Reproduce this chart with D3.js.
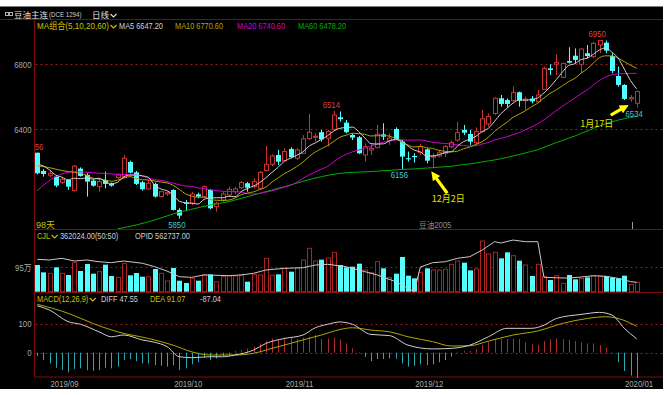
<!DOCTYPE html>
<html>
<head>
<meta charset="utf-8">
<script src="https://cdn.jsdelivr.net/npm/d3@7"></script>
<style>
  body { margin: 0; background: #fff; }
  svg text { font-family: "Liberation Sans", Arial, "Noto Sans CJK SC", sans-serif; }
  svg text.cjk { font-family: "Noto Sans CJK SC", sans-serif; }
</style>
</head>
<body>
<div id="chart"></div>
<script>
// Daily bars, 2019-08-26 .. 2020-01-17 (98 trading days)
const opens = [6256,6144,6117,6109,6072,6088,6023,6158,6119,6084,6047,6088,6064,6103,6105,6199,6135,6074,6033,6064,
  5986,6002,6027,5904,5949,5945,6000,5986,6027,5924,5965,5996,6016,6041,6068,6047,6037,6146,6185,6242,
  6207,6279,6222,6252,6343,6353,6382,6345,6400,6474,6441,6365,6351,6242,6273,6287,6369,6330,6402,6324,
  6222,6236,6258,6277,6228,6236,6252,6293,6334,6396,6371,6318,6386,6433,6498,6591,6580,6576,6628,6576,
  6589,6570,6646,6775,6800,6720,6820,6853,6800,6868,6847,6919,6933,6851,6728,6673,6587,6560];
const highs = [6256,6154,6150,6119,6105,6092,6181,6166,6129,6092,6098,6140,6072,6129,6242,6207,6144,6082,6088,6072,
  6023,6016,6031,5914,5965,6016,6010,6055,6033,5955,6016,6047,6047,6082,6076,6098,6144,6297,6246,6273,
  6283,6289,6283,6365,6494,6375,6396,6396,6514,6510,6457,6375,6359,6314,6314,6427,6437,6375,6412,6334,
  6263,6252,6310,6283,6252,6273,6304,6330,6447,6427,6396,6412,6519,6498,6597,6611,6590,6663,6632,6601,
  6605,6642,6786,6800,6861,6810,6905,6898,6898,6919,6939,6950,6946,6868,6786,6677,6611,6638];
const lows = [6123,6109,6105,6043,6064,6027,6016,6109,5986,6047,6016,6037,6047,6096,6098,6129,6057,6023,6027,5980,
  5980,5990,5900,5850,5904,5934,5975,5980,5908,5893,5955,5986,6002,6031,6016,6037,6027,6140,6174,6181,
  6201,6222,6211,6248,6334,6324,6324,6293,6392,6447,6375,6334,6248,6201,6242,6283,6334,6304,6334,6156,
  6201,6195,6242,6191,6160,6228,6232,6283,6324,6365,6304,6310,6379,6416,6488,6539,6535,6570,6539,6519,
  6560,6560,6642,6734,6734,6714,6806,6806,6745,6837,6837,6868,6868,6745,6663,6580,6570,6534];
const closes = [6129,6125,6129,6053,6092,6047,6174,6113,6078,6053,6078,6064,6053,6119,6222,6133,6064,6031,6068,5986,
  6016,6010,5904,5869,5941,6002,5986,6047,5914,5945,6002,6031,6033,6072,6041,6078,6135,6185,6236,6201,
  6263,6228,6273,6341,6382,6357,6338,6386,6488,6462,6382,6349,6252,6293,6283,6369,6355,6345,6338,6232,
  6215,6228,6293,6207,6236,6256,6293,6318,6379,6379,6324,6386,6464,6478,6591,6556,6556,6626,6576,6585,
  6572,6611,6775,6765,6810,6806,6810,6827,6894,6851,6929,6946,6884,6759,6673,6587,6595,6632];
const volumes = [1027000,744000,706000,937000,706000,642000,1116000,796000,1065000,693000,770000,1040000,603000,552000,1090000,629000,719000,577000,577000,873000,
  706000,411000,911000,423000,334000,513000,423000,642000,667000,385000,577000,603000,603000,642000,385000,667000,642000,1283000,629000,667000,
  898000,770000,924000,1219000,1668000,1180000,1232000,1296000,1514000,1027000,937000,962000,1078000,834000,731000,1155000,898000,552000,693000,1335000,
  616000,513000,744000,898000,834000,834000,860000,1052000,1180000,1116000,821000,873000,1950000,1450000,1514000,1283000,1514000,1386000,1193000,1027000,
  603000,1052000,577000,449000,616000,321000,642000,475000,513000,552000,603000,577000,603000,539000,513000,616000,282000,362024];
const openInterest = [[0,716000],[2,712000],[4,723000],[6,705000],[8,712000],[10,700000],[12,694000],[14,705000],[17,690000],[19,667000],
  [21,638000],[23,600000],[25,596000],[27,612000],[31,607000],[33,612000],[35,623000],[37,645000],[40,656000],[43,660000],
  [45,678000],[47,683000],[50,667000],[53,634000],[55,612000],[58,567000],[60,523000],[61,500000],[62,665000],[64,694000],
  [66,700000],[68,723000],[70,734000],[72,778000],[74,834000],[75,825000],[77,845000],[79,834000],[81,834000],[82,596000],
  [84,593000],[86,591000],[88,598000],[90,607000],[92,603000],[94,589000],[96,567000],[97,562737]];

// moving-average values before a full window is available [day, price]
const ma5Head = [[0,6187],[1,6174],[2,6150],[3,6118]];
const ma10Head = [[0,6176],[2,6164],[4,6146],[6,6135],[8,6117]];
const ma20Head = [[0,6023],[3,6109],[6,6140],[9,6133],[13,6123],[16,6119]];
const ma60Head = [[13,5787],[16,5811],[19,5842],[22,5879],[25,5908],[28,5934],[31,5955],[35,5996],[40,6047],[46,6109],[49,6129],[54,6140],[58,6150]];

// MACD(12,26,9)
const diffPoints = [[0,162],[2,147],[5,107],[7,98],[10,72],[12,55],[14,61],[17,44],[19,36],[21,21],[23,-14],[25,-17],[28,-14],[30,-14],
  [32,-8],[35,9],[37,32],[40,49],[43,61],[45,86],[47,98],[49,106],[51,98],[54,63],[57,59],[60,26],[64,13],[67,15],[70,26],
  [73,55],[76,84],[80,84],[82,95],[84,118],[88,132],[91,139],[93,130],[95,84],[97,47.55]];
const deaPoints = [[0,167],[5,136],[9,101],[13,72],[18,49],[22,26],[25,3],[28,-8],[32,-8],[35,-2],[38,15],[43,44],[46,61],[49,80],
  [51,86],[54,78],[57,72],[60,55],[64,38],[67,23],[70,24],[73,40],[77,61],[81,75],[85,101],[89,118],[92,124],[94,118],[97,91.07]];
const macdBars = [-11,-25,-37,-52,-60,-68,-56,-54,-60,-63,-60,-52,-54,-48,-25,-22,-29,-37,-37,-43,
  -45,-48,-43,-60,-54,-40,-33,-17,-25,-20,-11,-8,6,9,15,21,32,40,49,47,
  52,52,47,52,55,61,47,49,52,46,32,15,-2,-14,-29,-22,-22,-20,-20,-37,
  -48,-45,-40,-43,-40,-33,-25,-14,3,6,6,13,26,38,47,49,47,49,47,36,
  29,26,40,47,49,47,44,40,36,32,32,26,17,-2,-33,-63,-79,-87.04];

const monthIdx = [5, 25, 43, 64, 86];
const monthLabels = ["2019/09", "2019/10", "2019/11", "2019/12", "2020/01"];
const priceTicks = [6400, 6800];
const volTicks = [950000];
const macdTicks = [0, 100];

const maNames = ["MA5", "MA10", "MA20", "MA60"];
const maLast = [6647.2, 6770.6, 6740.6, 6478.2];
const highMarks = [0, 48, 91];
const lowMarks = [23, 59, 97];

document.addEventListener("DOMContentLoaded", function () {
  const width = 667,
    height = 395;
  const left = 34.5,
    right = 663;
  const frame = "#7a0e0e";
  const up = "#cc3434",
    down = "#54ffff";
  const yellow = "#c8c000",
    light = "#d0d0d0",
    axisGray = "#a8a8a8";
  const maColors = ["#cfcfcf", "#b0a400", "#d000d0", "#00b000"];
  const squeeze = 0.82; // the terminal font is narrower than Liberation Sans

  const svg = d3
    .select("#chart")
    .append("svg")
    .attr("width", width)
    .attr("height", height);

  // squeeze text horizontally to match the narrow terminal font
  function condense(sel, f) {
    sel.each(function () {
      const w = this.getComputedTextLength();
      d3.select(this).attr("textLength", w * f).attr("lengthAdjust", "spacingAndGlyphs");
    });
  }

  svg.append("rect").attr("width", width).attr("height", height).attr("fill", "#fff");
  svg.append("rect").attr("y", 6.5).attr("width", right).attr("height", 382.5).attr("fill", "#000");

  const x = d3.scaleLinear().domain([0, closes.length - 1]).range([37.2, 636.7]);
  const yPrice = d3.scaleLinear().domain([6400, 6800]).range([129.3, 64.3]);
  const yVol = d3.scaleLinear().domain([0, 950000]).range([291.7, 267]);
  const yOpi = d3.scaleLinear().domain([500000, 900000]).range([291.7, 231.8]);
  const yMacd = d3.scaleLinear().domain([0, 100]).range([352.7, 323.7]);

  const defs = svg.append("defs");
  defs.append("clipPath").attr("id", "clipPrice")
    .append("rect").attr("x", 35).attr("y", 20).attr("width", right - 35).attr("height", 209);

  // panel frame
  const hline = (y, x0) =>
    svg.append("line").attr("x1", x0).attr("x2", right).attr("y1", y).attr("y2", y)
      .attr("stroke", frame).attr("stroke-width", 1.2);
  hline(19.5, 0);
  hline(229.5, left);
  hline(292.5, left);
  hline(377, left);
  svg.append("line").attr("x1", left).attr("x2", left).attr("y1", 19.5).attr("y2", 377)
    .attr("stroke", frame).attr("stroke-width", 1.2);

  // dotted grid + left labels
  function yAxis(scale, ticks, fmt) {
    const g = svg.append("g").attr("transform", `translate(${left},0)`)
      .call(d3.axisLeft(scale).tickValues(ticks).tickSize(0).tickPadding(3).tickFormat(fmt));
    g.select(".domain").remove();
    g.selectAll("text").attr("fill", axisGray).style("font-size", "9.5px").call(condense, squeeze);
    svg.append("g").selectAll("line").data(ticks).join("line")
      .attr("x1", left + 1).attr("x2", right)
      .attr("y1", (d) => Math.round(scale(d)) + 0.5).attr("y2", (d) => Math.round(scale(d)) + 0.5)
      .attr("stroke", "#9a1c1c").attr("stroke-dasharray", "2,3");
  }
  yAxis(yPrice, priceTicks, d3.format("d"));
  yAxis(yVol, volTicks, (d) => d / 10000 + "万");
  yAxis(yMacd, macdTicks, d3.format("d"));

  // date axis
  const xAxis = svg.append("g").attr("transform", "translate(0,377)")
    .call(d3.axisBottom(x).tickValues(monthIdx).tickSize(0).tickPadding(3)
      .tickFormat((d, i) => monthLabels[i]));
  xAxis.select(".domain").remove();
  xAxis.selectAll(".tick").attr("transform", (d) => `translate(${x(d) - 3.5},0)`);
  xAxis.selectAll("text").attr("fill", axisGray).style("font-size", "9.5px").call(condense, squeeze);
  // the current month label sits at the right end of the axis
  xAxis.select(".tick:last-of-type").attr("transform", `translate(${right - 24},0)`);

  // candles
  const price = svg.append("g").attr("clip-path", "url(#clipPrice)");
  const px = (i) => Math.round(x(i));
  const candle = price.selectAll("g.candle").data(d3.range(closes.length)).join("g");
  candle.append("line")
    .attr("x1", (i) => px(i) + 0.5).attr("x2", (i) => px(i) + 0.5)
    .attr("y1", (i) => yPrice(highs[i])).attr("y2", (i) => yPrice(lows[i]))
    .attr("stroke", (i) => (closes[i] >= opens[i] ? up : down));
  candle.append("rect")
    .attr("x", (i) => (closes[i] >= opens[i] ? px(i) - 1.5 : px(i) - 2))
    .attr("width", (i) => (closes[i] >= opens[i] ? 4 : 5))
    .attr("y", (i) => yPrice(Math.max(opens[i], closes[i])))
    .attr("height", (i) => Math.max(1, yPrice(Math.min(opens[i], closes[i])) - yPrice(Math.max(opens[i], closes[i]))))
    .attr("fill", (i) => (closes[i] >= opens[i] ? "#000" : down))
    .attr("stroke", (i) => (closes[i] >= opens[i] ? up : "none"));

  // moving averages
  function movingAverage(n, head) {
    const pts = head.slice();
    for (let i = n - 1; i < closes.length; i++) {
      pts.push([i, d3.mean(closes.slice(i - n + 1, i + 1))]);
    }
    return pts;
  }
  const maLine = d3.line().x((d) => x(d[0])).y((d) => yPrice(d[1])).curve(d3.curveMonotoneX);
  [movingAverage(60, ma60Head), movingAverage(20, ma20Head), movingAverage(10, ma10Head), movingAverage(5, ma5Head)]
    .forEach((pts, k) => {
      price.append("path").attr("d", maLine(pts)).attr("fill", "none")
        .attr("stroke", maColors[3 - k]).attr("stroke-width", 1);
    });

  // high / low marks
  price.selectAll("text.hi").data(highMarks).join("text")
    .attr("x", (i) => x(i) - 2.5).attr("y", (i) => yPrice(highs[i]) - 3)
    .attr("text-anchor", "middle").attr("fill", "#dc4040").style("font-size", "9.5px")
    .text((i) => highs[i]).call(condense, squeeze);
  price.selectAll("text.lo").data(lowMarks).join("text")
    .attr("x", (i) => x(i) - 2.5).attr("y", (i) => yPrice(lows[i]) + 9.5)
    .attr("text-anchor", "middle").attr("fill", "#40c8d0").style("font-size", "9.5px")
    .text((i) => lows[i]).call(condense, squeeze);

  // arrow annotations
  function arrow(tip, tail) {
    const dx = tail[0] - tip[0], dy = tail[1] - tip[1];
    const len = Math.hypot(dx, dy), ux = dx / len, uy = dy / len;
    const nx = -uy, ny = ux;
    const hl = 9, hw = 4.5, sw = 1.6;
    const b = [tip[0] + ux * hl, tip[1] + uy * hl];
    return [tip, [b[0] + nx * hw, b[1] + ny * hw], [b[0] + nx * sw, b[1] + ny * sw],
      [tail[0] + nx * sw, tail[1] + ny * sw], [tail[0] - nx * sw, tail[1] - ny * sw],
      [b[0] - nx * sw, b[1] - ny * sw], [b[0] - nx * hw, b[1] - ny * hw]];
  }
  const tip1 = [x(64) - 1.5, yPrice(lows[64]) + 3];
  const tip2 = [x(97) - 8, yPrice(lows[97]) - 2.5];
  svg.append("polygon").attr("points", arrow(tip1, [tip1[0] + 16, tip1[1] + 22]).join(" ")).attr("fill", "#ffff00");
  svg.append("polygon").attr("points", arrow(tip2, [tip2[0] - 18, tip2[1] + 10]).join(" ")).attr("fill", "#ffff00");
  svg.append("text").attr("class", "cjk").attr("x", tip1[0] + 17).attr("y", tip1[1] + 30.5)
    .attr("text-anchor", "middle").attr("fill", "#e0e000").style("font-size", "9px").text("12月2日");
  svg.append("text").attr("class", "cjk").attr("x", tip2[0] - 32).attr("y", tip2[1] + 22)
    .attr("text-anchor", "middle").attr("fill", "#e0e000").style("font-size", "9px").text("1月17日");

  // volume bars + open interest
  const vol = svg.append("g");
  vol.selectAll("rect").data(d3.range(volumes.length)).join("rect")
    .attr("x", (i) => (closes[i] >= opens[i] ? px(i) - 1.5 : px(i) - 2))
    .attr("width", (i) => (closes[i] >= opens[i] ? 4 : 5))
    .attr("y", (i) => yVol(volumes[i]))
    .attr("height", (i) => yVol(0) - yVol(volumes[i]))
    .attr("fill", (i) => (closes[i] >= opens[i] ? "#000" : down))
    .attr("stroke", (i) => (closes[i] >= opens[i] ? "#a82424" : "none"));
  vol.append("path")
    .attr("d", d3.line().x((d) => x(d[0])).y((d) => yOpi(d[1]))(openInterest))
    .attr("fill", "none").attr("stroke", "#c8c8c8").attr("stroke-width", 1);

  // MACD
  const macd = svg.append("g");
  macd.selectAll("line").data(d3.range(macdBars.length)).join("line")
    .attr("x1", (i) => px(i) + 0.5).attr("x2", (i) => px(i) + 0.5)
    .attr("y1", yMacd(0)).attr("y2", (i) => yMacd(macdBars[i]))
    .attr("stroke", (i) => (macdBars[i] >= 0 ? "#b02c2c" : "#2aaab0"));
  const macdLine = d3.line().x((d) => x(d[0])).y((d) => yMacd(d[1])).curve(d3.curveMonotoneX);
  macd.append("path").attr("d", macdLine(deaPoints)).attr("fill", "none").attr("stroke", "#b0a800");
  macd.append("path").attr("d", macdLine(diffPoints)).attr("fill", "none").attr("stroke", "#cfcfcf");

  // texts
  function label(xp, yp, txt, color, size, cls, f) {
    const t = svg.append("text").attr("class", cls || null).attr("x", xp).attr("y", yp)
      .attr("fill", color).style("font-size", size + "px").text(txt);
    if (f) t.call(condense, f);
    return t;
  }
  function chevron(xp, yp, color) {
    svg.append("path").attr("d", `M${xp},${yp} l3,3 l3,-3`).attr("fill", "none")
      .attr("stroke", color).attr("stroke-width", 1.1);
  }
  // label followed by a small drop-down chevron
  function menuLabel(xp, yp, txt, color, size, cls, f) {
    const t = label(xp, yp, txt, color, size, cls, f);
    const w = f ? +t.attr("textLength") : t.node().getComputedTextLength();
    chevron(xp + w + 1.5, yp - 3.5, color);
  }

  svg.append("rect").attr("x", 5.5).attr("y", 12.5).attr("width", 3).attr("height", 3)
    .attr("fill", "none").attr("stroke", "#b0b0b0");
  svg.append("rect").attr("x", 9.5).attr("y", 12.5).attr("width", 3).attr("height", 3)
    .attr("fill", "none").attr("stroke", "#b0b0b0");
  label(14, 17.5, "豆油主连", "#e0e0e0", 8.5, "cjk");
  label(49, 17, "(DCE 1294)", "#d0d0d0", 7.5, null, squeeze);
  menuLabel(92, 17.5, "日线", "#e0e0e0", 8.5, "cjk");

  menuLabel(37, 28.5, "MA组合(5,10,20,60)", yellow, 9, null, 0.9);
  const maX = [119, 175, 237, 298];
  maNames.forEach((m, k) =>
    label(maX[k], 28.5, `${m} ${maLast[k].toFixed(2)}`, k === 0 ? light : maColors[k], 9, null, squeeze));

  label(36, 227.5, "98天", yellow, 9);
  label(419, 228, "豆油2005", "#8c8c8c", 8.5, null, 0.9);
  svg.append("line").attr("x1", 632.5).attr("x2", 632.5).attr("y1", 222).attr("y2", 229).attr("stroke", "#9a9a9a");

  menuLabel(37, 238.5, "CJL", yellow, 9, null, squeeze);
  label(60, 238.5, "362024.00(50:50)", light, 9, null, squeeze);
  label(135, 238.5, "OPID 562737.00", light, 9, null, squeeze);

  menuLabel(37, 301.5, "MACD(12,26,9)", yellow, 9, null, squeeze);
  label(101, 301.5, "DIFF 47.55", light, 9, null, squeeze);
  label(150, 301.5, "DEA 91.07", yellow, 9, null, squeeze);
  label(200, 301.5, "-87.04", light, 9, null, squeeze);
});
</script>
</body>
</html>
